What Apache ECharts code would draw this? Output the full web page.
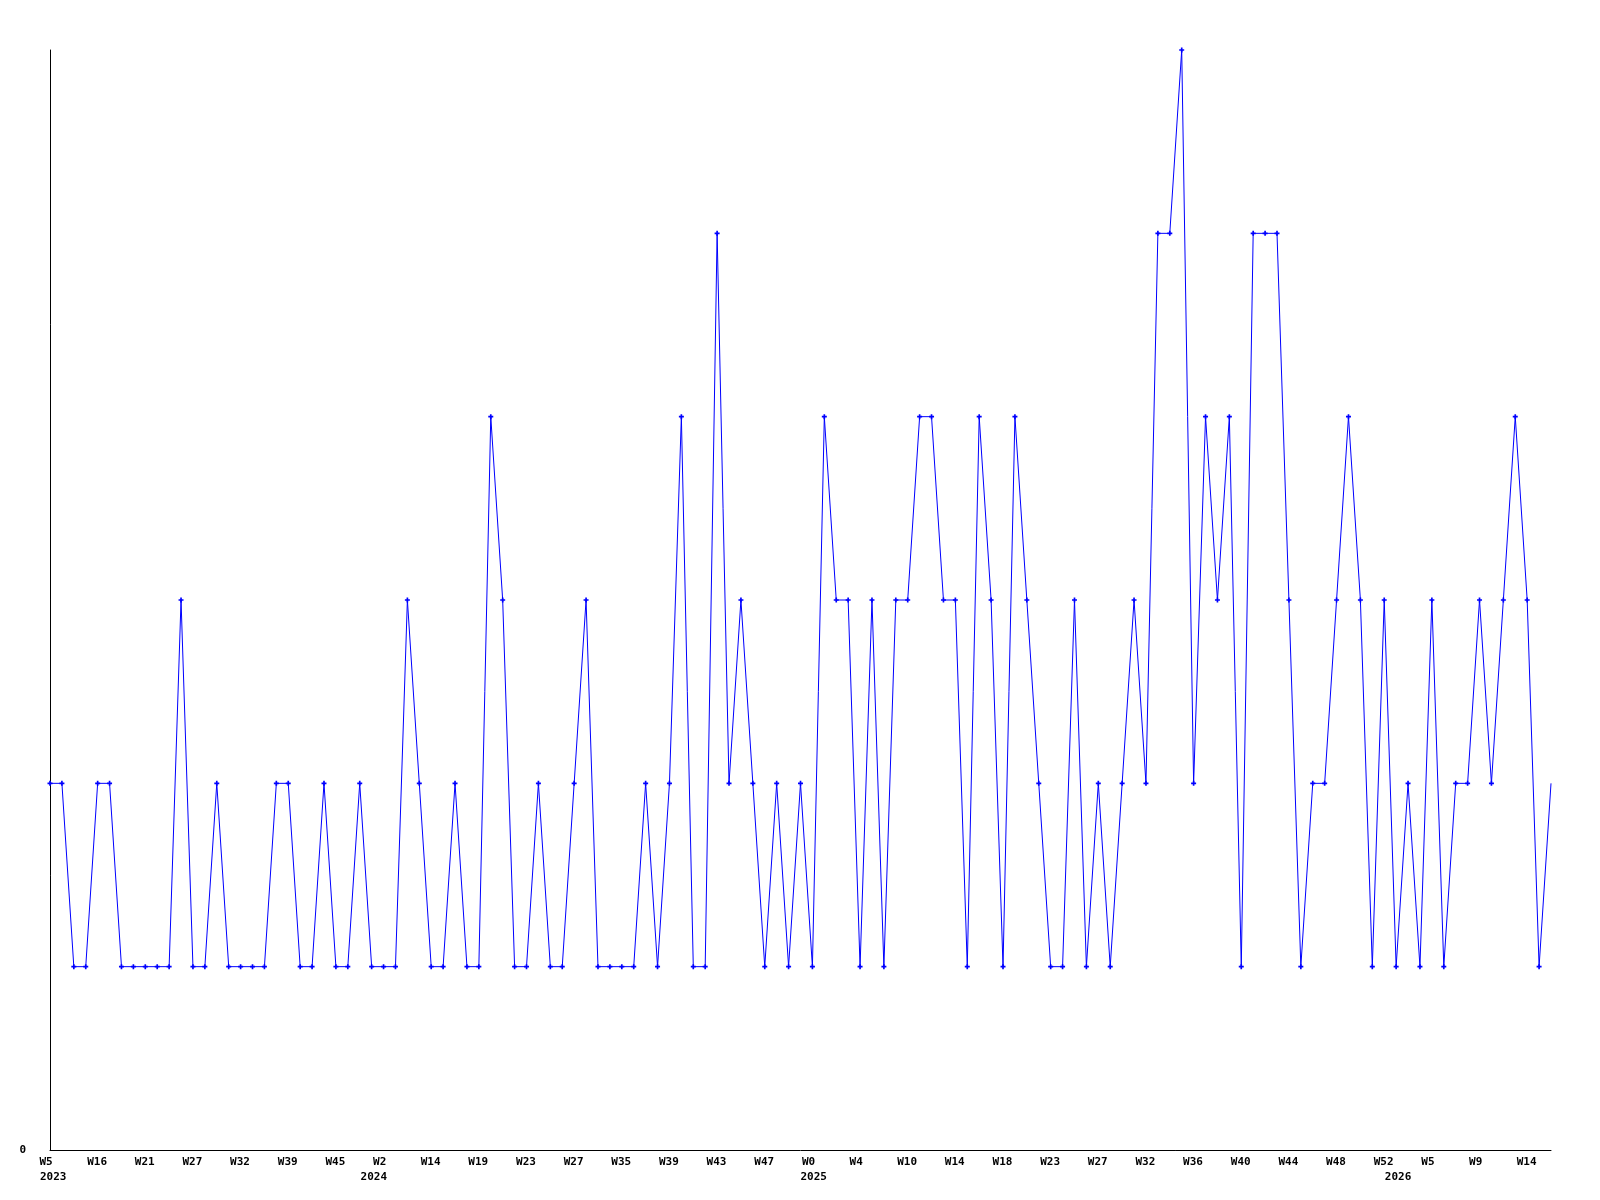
<!DOCTYPE html>
<html>
<head>
<meta charset="utf-8">
<script src="https://cdn.jsdelivr.net/npm/echarts@6/dist/echarts.min.js"></script>
<style>html,body{margin:0;padding:0;background:#fff}#c{width:1600px;height:1200px}</style>
</head>
<body>
<div id="c"></div>
<script>
// Weekly values, one per point (left to right)
const values = [
  2,2,1,1,2,2,1,1,1,1,1,
  3,1,1,2,1,1,1,1,2,2,
  1,1,2,1,1,2,1,1,1,3,
  2,1,1,2,1,1,4,3,1,1,
  2,1,1,2,3,1,1,1,1,2,
  1,2,4,1,1,5,2,3,2,1,
  2,1,2,1,4,3,3,1,3,1,
  3,3,4,4,3,3,1,4,3,1,
  4,3,2,1,1,3,1,2,1,2,
  3,2,5,5,6,2,4,3,4,1,
  5,5,5,3,1,2,2,3,4,3,
  1,3,1,2,1,3,1,2,2,3,
  2,3,4,3,1,2
];
// Tick labels shown every 4th point
const weekLabels = ['W5','W16','W21','W27','W32','W39','W45','W2','W14','W19','W23','W27','W35','W39','W43','W47',
  'W0','W4','W10','W14','W18','W23','W27','W32','W36','W40','W44','W48','W52','W5','W9','W14'];
// Year labels and the point index they sit under
const yearNames = ['2023','2024','2025','2026'];
const yearIndex = [0, 28, 64, 116];

const categories = values.map((v, i) => 'P' + i);
const FONT = 'DejaVu Sans Mono';
const yearBoxW = {'2023': 20, '2024': 46, '2025': 24, '2026': 94};

const rich = {w: {width: 21, align: 'left', fontFamily: FONT, fontWeight: 'bold', fontSize: 11, color: '#000'}};
yearNames.forEach(y => { rich['y' + y] = {width: yearBoxW[y], align: 'left', fontFamily: FONT, fontWeight: 'bold', fontSize: 11, color: '#000'}; });

const chart = echarts.init(document.getElementById('c'), null, {renderer: 'canvas'});
chart.setOption({
  animation: false,
  backgroundColor: '#fff',
  grid: {left: 50, right: 49, top: 50, bottom: 50, containLabel: false},
  xAxis: [{
    type: 'category', data: categories, boundaryGap: false,
    axisLine: {show: true, lineStyle: {color: '#000', width: 1}},
    axisTick: {show: false}, splitLine: {show: false},
    axisLabel: {
      interval: 3, margin: 7, rich: rich,
      fontFamily: FONT, fontWeight: 'bold', fontSize: 11, color: '#000',
      formatter: (v, i) => '{w|' + (weekLabels[i / 4] || '') + '}'
    }
  }, {
    type: 'category', data: categories, boundaryGap: false, position: 'bottom', offset: 15,
    axisLine: {show: false}, axisTick: {show: false}, splitLine: {show: false},
    axisLabel: {
      interval: (i) => yearIndex.indexOf(i) >= 0, margin: 7, rich: rich,
      fontFamily: FONT, fontWeight: 'bold', fontSize: 11, color: '#000',
      formatter: (v, i) => { const k = yearIndex.indexOf(i); return k >= 0 ? '{y' + yearNames[k] + '|' + yearNames[k] + '}' : ''; }
    }
  }],
  yAxis: {
    type: 'value', min: 0, max: 6, interval: 6,
    axisLine: {show: true, lineStyle: {color: '#000', width: 1}},
    axisTick: {show: false}, splitLine: {show: false},
    axisLabel: {margin: 24, fontFamily: FONT, fontWeight: 'bold', fontSize: 11, color: '#000',
      formatter: v => v === 0 ? '0' : ''}
  },
  series: [{
    type: 'line', data: values, xAxisIndex: 0,
    symbol: (v, p) => p.dataIndex === values.length - 1 ? 'none' : 'path://M1,0H2V1H3V2H2V3H1V2H0V1H1Z',
    symbolSize: 5, showAllSymbol: true, clip: false,
    lineStyle: {color: '#0000ff', width: 1},
    itemStyle: {color: '#0000ff', borderWidth: 0}
  }]
});
</script>
</body>
</html>
